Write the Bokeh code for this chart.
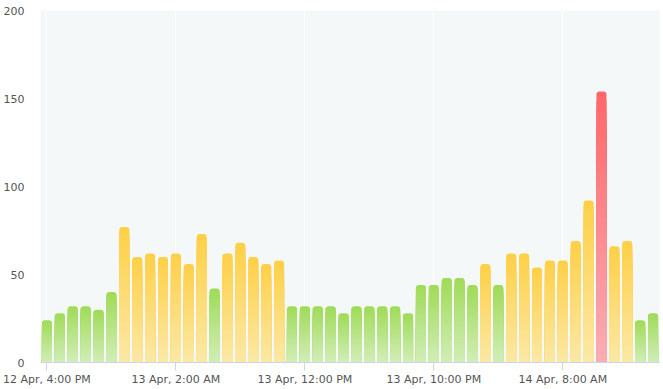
from bokeh.plotting import figure
from bokeh.models import ColumnDataSource, FixedTicker
from bokeh.embed import file_html
from bokeh.resources import INLINE

# ---- data -------------------------------------------------------------
hours = list(range(48))  # hourly, starting 12 Apr 4:00 PM
values = [24, 28, 32, 32, 30, 40,
          77, 60, 62, 60, 62, 56, 73, 42, 62, 68, 60, 56, 58,
          32, 32, 32, 32, 28, 32, 32, 32, 32, 28, 44, 44,
          48, 48, 44, 56, 44, 62, 62, 54, 58, 58, 69, 92, 154, 66, 69, 24, 28]
tick_hours = [0, 10, 20, 30, 40]
tick_labels = ["12 Apr, 4:00 PM", "13 Apr, 2:00 AM", "13 Apr, 12:00 PM",
               "13 Apr, 10:00 PM", "14 Apr, 8:00 AM"]
y_ticks = [0, 50, 100, 150, 200]

# ---- styles -----------------------------------------------------------
GREEN = ((160, 219, 88), (210, 238, 186))
YELLOW = ((254, 208, 72), (251, 233, 168))
RED = ((254, 104, 106), (249, 174, 182))


def band(v):
    if v > 100:
        return RED
    if v >= 50:
        return YELLOW
    return GREEN


def mix(c1, c2, t):
    return "#%02x%02x%02x" % tuple(int(round(a + (b - a) * t)) for a, b in zip(c1, c2))


N = 30
full = dict(x=[], top=[], color=[])
inner = dict(x=[], top=[], color=[])
for h, v in zip(hours, values):
    top_c, bot_c = band(v)
    full["x"].append(h)
    full["top"].append(v)
    full["color"].append(mix(top_c, bot_c, 0.0))
    for k in range(N - 1, 0, -1):
        frac = k / N
        inner["x"].append(h)
        inner["top"].append(v * frac)
        inner["color"].append(mix(top_c, bot_c, 1 - frac))

FONT = "DejaVu Sans"
TXT = "#555555"

p = figure(frame_width=619, frame_height=352,
           x_range=(-0.5, 47.5), y_range=(0, 200),
           output_backend="svg", toolbar_location=None,
           min_border_left=40, min_border_right=3,
           min_border_top=10, min_border_bottom=26,
           background_fill_color="#f4f8f9", border_fill_color="white")
p.outline_line_color = None

p.vbar(x="x", top="top", bottom=0, width=0.775, source=ColumnDataSource(full),
       fill_color="color", line_color=None, border_radius=(3, 3, 0, 0))
p.vbar(x="x", top="top", bottom=0, width=0.775, source=ColumnDataSource(inner),
       fill_color="color", line_color=None)

# x axis
xa = p.xaxis[0]
xa.ticker = FixedTicker(ticks=tick_hours)
xa.major_label_overrides = dict(zip(tick_hours, tick_labels))
xa.axis_line_color = "#ccd6eb"
xa.major_tick_line_color = "#ccd6eb"
xa.major_tick_in = 0
xa.major_tick_out = 8
xa.minor_tick_line_color = None
xa.major_label_standoff = 2
xa.major_label_text_font = FONT
xa.major_label_text_font_size = "11px"
xa.major_label_text_color = TXT

# y axis
ya = p.yaxis[0]
ya.ticker = FixedTicker(ticks=y_ticks)
ya.axis_line_color = None
ya.major_tick_line_color = None
ya.minor_tick_line_color = None
ya.major_tick_in = 0
ya.major_tick_out = 0
ya.major_label_standoff = 16
ya.major_label_text_font = FONT
ya.major_label_text_font_size = "11px"
ya.major_label_text_color = TXT

p.xgrid.ticker = FixedTicker(ticks=tick_hours)
p.xgrid.grid_line_color = "white"
p.xgrid.grid_line_width = 1
p.ygrid.grid_line_color = None

open("out.html", "w").write(file_html(p, INLINE))
